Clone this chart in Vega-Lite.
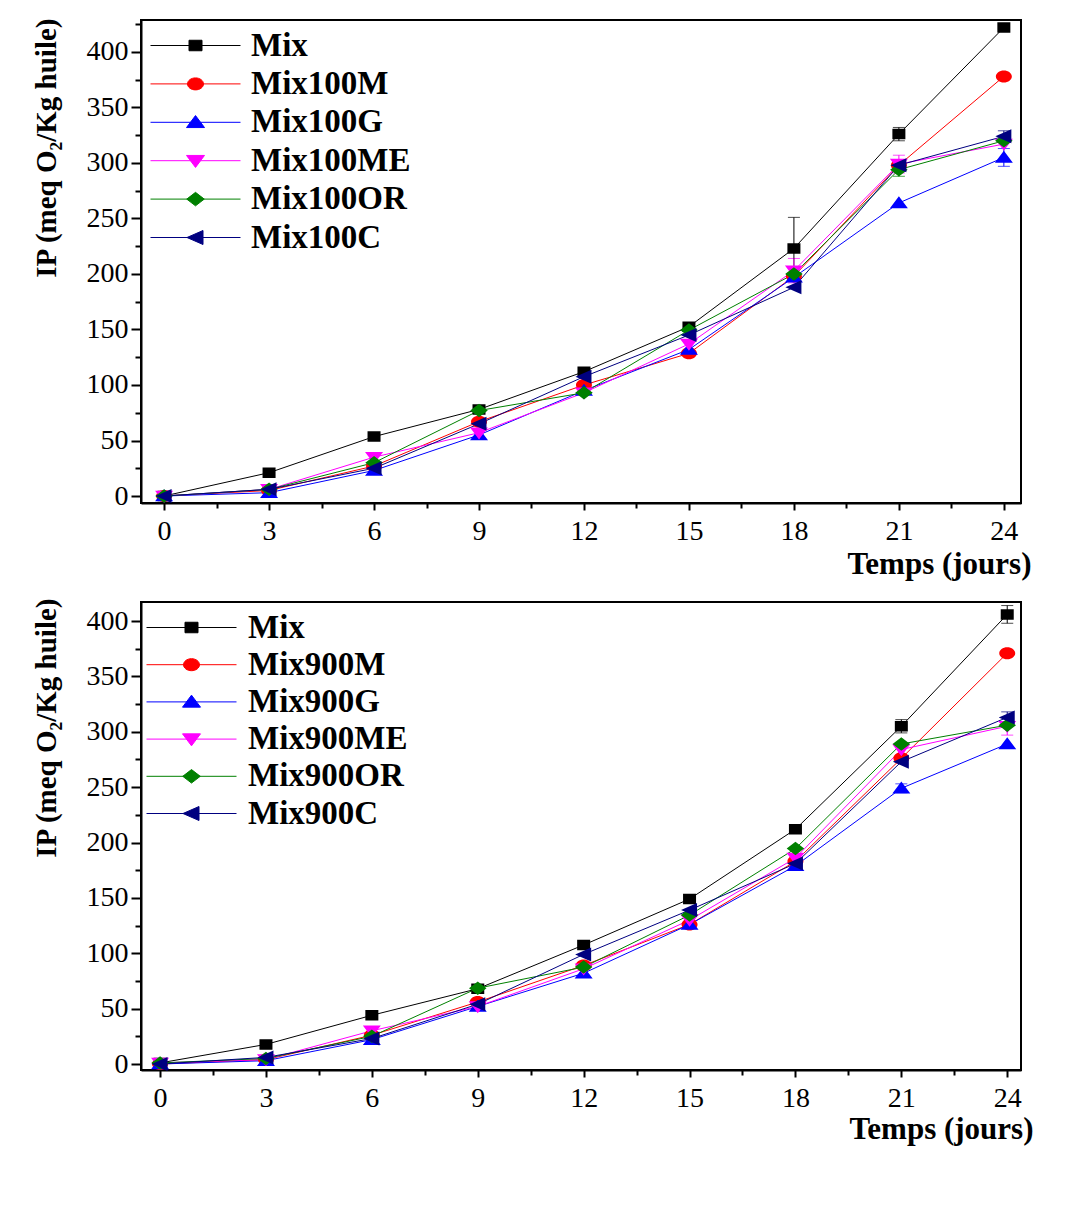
{
  "$schema": "https://vega.github.io/schema/vega-lite/v6.json",
  "background": "white",
  "padding": {"left": 31, "top": 9, "right": 5, "bottom": 5},
  "spacing": 17,
  "datasets": {
    "top": [
      {"day":0,"series":"Mix","v":0,"err":0},{"day":3,"series":"Mix","v":21,"err":0},{"day":6,"series":"Mix","v":53.5,"err":0},{"day":9,"series":"Mix","v":78,"err":0},{"day":12,"series":"Mix","v":112,"err":0},{"day":15,"series":"Mix","v":152.5,"err":0},{"day":18,"series":"Mix","v":223,"err":28},{"day":21,"series":"Mix","v":326,"err":6},{"day":24,"series":"Mix","v":422,"err":0},
      {"day":0,"series":"Mix100M","v":0,"err":0},{"day":3,"series":"Mix100M","v":5,"err":0},{"day":6,"series":"Mix100M","v":27,"err":0},{"day":9,"series":"Mix100M","v":67,"err":0},{"day":12,"series":"Mix100M","v":100,"err":0},{"day":15,"series":"Mix100M","v":128.5,"err":0},{"day":18,"series":"Mix100M","v":198,"err":0},{"day":21,"series":"Mix100M","v":298,"err":0},{"day":24,"series":"Mix100M","v":378,"err":0},
      {"day":0,"series":"Mix100G","v":0,"err":0},{"day":3,"series":"Mix100G","v":3,"err":0},{"day":6,"series":"Mix100G","v":23,"err":0},{"day":9,"series":"Mix100G","v":55,"err":0},{"day":12,"series":"Mix100G","v":95,"err":0},{"day":15,"series":"Mix100G","v":132,"err":0},{"day":18,"series":"Mix100G","v":197,"err":0},{"day":21,"series":"Mix100G","v":264,"err":0},{"day":24,"series":"Mix100G","v":305,"err":8},
      {"day":0,"series":"Mix100ME","v":0,"err":0},{"day":3,"series":"Mix100ME","v":6,"err":0},{"day":6,"series":"Mix100ME","v":35,"err":0},{"day":9,"series":"Mix100ME","v":57,"err":0},{"day":12,"series":"Mix100ME","v":93,"err":0},{"day":15,"series":"Mix100ME","v":137,"err":0},{"day":18,"series":"Mix100ME","v":203,"err":11},{"day":21,"series":"Mix100ME","v":299,"err":8},{"day":24,"series":"Mix100ME","v":317,"err":0},
      {"day":0,"series":"Mix100OR","v":0,"err":0},{"day":3,"series":"Mix100OR","v":6,"err":0},{"day":6,"series":"Mix100OR","v":30,"err":0},{"day":9,"series":"Mix100OR","v":77,"err":0},{"day":12,"series":"Mix100OR","v":93,"err":0},{"day":15,"series":"Mix100OR","v":149.5,"err":0},{"day":18,"series":"Mix100OR","v":200,"err":0},{"day":21,"series":"Mix100OR","v":294,"err":6},{"day":24,"series":"Mix100OR","v":320,"err":0},
      {"day":0,"series":"Mix100C","v":0,"err":0},{"day":3,"series":"Mix100C","v":6,"err":0},{"day":6,"series":"Mix100C","v":25,"err":0},{"day":9,"series":"Mix100C","v":65,"err":0},{"day":12,"series":"Mix100C","v":107.5,"err":0},{"day":15,"series":"Mix100C","v":145,"err":0},{"day":18,"series":"Mix100C","v":188,"err":0},{"day":21,"series":"Mix100C","v":298,"err":0},{"day":24,"series":"Mix100C","v":324,"err":5}
    ],
    "bottom": [
      {"day":0,"series":"Mix","v":1,"err":0},{"day":3,"series":"Mix","v":17.7,"err":0},{"day":6,"series":"Mix","v":44,"err":0},{"day":9,"series":"Mix","v":68,"err":0},{"day":12,"series":"Mix","v":107.5,"err":0},{"day":15,"series":"Mix","v":149,"err":0},{"day":18,"series":"Mix","v":212,"err":0},{"day":21,"series":"Mix","v":305,"err":6},{"day":24,"series":"Mix","v":406,"err":8},
      {"day":0,"series":"Mix900M","v":0,"err":0},{"day":3,"series":"Mix900M","v":4,"err":0},{"day":6,"series":"Mix900M","v":26,"err":0},{"day":9,"series":"Mix900M","v":56,"err":0},{"day":12,"series":"Mix900M","v":89,"err":0},{"day":15,"series":"Mix900M","v":126,"err":0},{"day":18,"series":"Mix900M","v":183,"err":0},{"day":21,"series":"Mix900M","v":276,"err":0},{"day":24,"series":"Mix900M","v":371,"err":0},
      {"day":0,"series":"Mix900G","v":0,"err":0},{"day":3,"series":"Mix900G","v":3,"err":0},{"day":6,"series":"Mix900G","v":22,"err":0},{"day":9,"series":"Mix900G","v":52,"err":0},{"day":12,"series":"Mix900G","v":82,"err":0},{"day":15,"series":"Mix900G","v":126,"err":0},{"day":18,"series":"Mix900G","v":179,"err":0},{"day":21,"series":"Mix900G","v":249,"err":4},{"day":24,"series":"Mix900G","v":289,"err":0},
      {"day":0,"series":"Mix900ME","v":1,"err":0},{"day":3,"series":"Mix900ME","v":4,"err":0},{"day":6,"series":"Mix900ME","v":30,"err":0},{"day":9,"series":"Mix900ME","v":52,"err":0},{"day":12,"series":"Mix900ME","v":86,"err":0},{"day":15,"series":"Mix900ME","v":130,"err":0},{"day":18,"series":"Mix900ME","v":186,"err":0},{"day":21,"series":"Mix900ME","v":284,"err":5},{"day":24,"series":"Mix900ME","v":305,"err":8},
      {"day":0,"series":"Mix900OR","v":1,"err":0},{"day":3,"series":"Mix900OR","v":5,"err":0},{"day":6,"series":"Mix900OR","v":25,"err":0},{"day":9,"series":"Mix900OR","v":68.5,"err":3},{"day":12,"series":"Mix900OR","v":87.5,"err":0},{"day":15,"series":"Mix900OR","v":134.5,"err":0},{"day":18,"series":"Mix900OR","v":194.5,"err":0},{"day":21,"series":"Mix900OR","v":289,"err":0},{"day":24,"series":"Mix900OR","v":306,"err":0},
      {"day":0,"series":"Mix900C","v":0,"err":0},{"day":3,"series":"Mix900C","v":6,"err":0},{"day":6,"series":"Mix900C","v":23,"err":0},{"day":9,"series":"Mix900C","v":54,"err":0},{"day":12,"series":"Mix900C","v":99,"err":0},{"day":15,"series":"Mix900C","v":139,"err":0},{"day":18,"series":"Mix900C","v":181,"err":0},{"day":21,"series":"Mix900C","v":273,"err":0},{"day":24,"series":"Mix900C","v":313,"err":5}
    ]
  },
  "config": {
    "view": {"stroke": "black", "strokeWidth": 2},
    "axis": {"grid": false, "domainColor": "black", "domainWidth": 2, "tickColor": "black", "tickWidth": 2, "labelFont": "Liberation Serif, Times New Roman, serif", "labelFontSize": 28, "labelColor": "black", "titleFont": "Liberation Serif, Times New Roman, serif", "titleFontWeight": "bold", "titleColor": "black", "labelOverlap": false, "labelFlush": false},
    "legend": {"labelFont": "Liberation Serif, Times New Roman, serif", "labelFontSize": 33, "labelFontWeight": "bold", "labelColor": "black", "labelLimit": 400, "padding": 0, "symbolStrokeWidth": 1, "symbolSize": 100, "symbolOpacity": 1}
  },
  "resolve": {"scale": {"color": "independent", "shape": "independent", "x": "independent", "y": "independent"}, "legend": {"color": "independent", "shape": "independent"}},
  "vconcat": [
    {
      "width": 880, "height": 483,
      "data": {"name": "top"},
      "encoding": {
        "x": {"field": "day", "type": "quantitative", "scale": {"domain": [-0.66, 24.49], "nice": false, "zero": false},
          "axis": {"title": "Temps (jours)", "values": [0,1.5,3,4.5,6,7.5,9,10.5,12,13.5,15,16.5,18,19.5,21,22.5,24], "labelExpr": "datum.value % 3 === 0 ? datum.label : ''", "tickSize": {"condition": {"test": "datum.value % 3 === 0", "value": 7}, "value": 5}, "labelPadding": 7, "titleFontSize": 31, "titleAnchor": "end", "titleAlign": "right", "titleBaseline": "top", "titleX": 890, "titleY": 46}},
        "y": {"field": "v", "type": "quantitative", "scale": {"domain": [-6.3, 428.8], "nice": false, "zero": false},
          "axis": {"title": "IP (meq O₂/Kg huile)", "values": [0,25,50,75,100,125,150,175,200,225,250,275,300,325,350,375,400,425], "labelExpr": "datum.value % 50 === 0 ? datum.label : ''", "tickSize": {"condition": {"test": "datum.value % 50 === 0", "value": 10}, "value": 6}, "labelPadding": 3, "titleFontSize": 29, "titleAngle": 270, "titleAlign": "right", "titleBaseline": "alphabetic", "titleAnchor": "end", "titleX": -86, "titleY": -2}},
        "color": {"field": "series", "type": "nominal",
          "scale": {"domain": ["Mix","Mix100M","Mix100G","Mix100ME","Mix100OR","Mix100C"], "range": ["#000000","#ff0000","#0000ff","#ff00ff","#008000","#000080"]},
          "legend": {"title": null, "orient": "none", "legendX": 38, "legendY": 9, "labelOffset": 39, "rowPadding": 4.4}}
      },
      "layer": [
        {"mark": {"type": "line", "strokeWidth": 1}},
        {"transform": [{"filter": "datum.err > 0"}], "mark": {"type": "errorbar", "ticks": {"size": 12, "thickness": 1}, "rule": {"strokeWidth": 1}}, "encoding": {"yError": {"field": "err"}}},
        {"mark": {"type": "point", "filled": true, "size": 100, "opacity": 1, "strokeWidth": 0},
          "encoding": {"shape": {"field": "series", "type": "nominal",
            "legend": {"title": null, "orient": "none", "legendX": 38, "legendY": 9, "labelOffset": 39, "rowPadding": 4.4},
            "scale": {"domain": ["Mix","Mix100M","Mix100G","Mix100ME","Mix100OR","Mix100C"], "range": ["M-9,0H9M-1.3,-1.05H1.3V1.05H-1.3Z","M-9,0H9M-1.6,0A1.6,1.2,0,1,0,1.6,0A1.6,1.2,0,1,0,-1.6,0Z","M-9,0H9M0,-1.35L1.8,1.05L-1.8,1.05Z","M-9,0H9M0,1.35L1.8,-1.05L-1.8,-1.05Z","M-9,0H9M0,-1.35L1.75,0L0,1.35L-1.75,0Z","M-9,0H9M-1.7,0L1.5,-1.4L1.5,1.4Z"]}}}}
      ]
    },
    {
      "width": 880, "height": 468,
      "data": {"name": "bottom"},
      "encoding": {
        "x": {"field": "day", "type": "quantitative", "scale": {"domain": [-0.54, 24.39], "nice": false, "zero": false},
          "axis": {"title": "Temps (jours)", "values": [0,1.5,3,4.5,6,7.5,9,10.5,12,13.5,15,16.5,18,19.5,21,22.5,24], "labelExpr": "datum.value % 3 === 0 ? datum.label : ''", "tickSize": {"condition": {"test": "datum.value % 3 === 0", "value": 7}, "value": 5}, "labelPadding": 7, "titleFontSize": 31, "titleAnchor": "end", "titleAlign": "right", "titleBaseline": "top", "titleX": 892, "titleY": 44}},
        "y": {"field": "v", "type": "quantitative", "scale": {"domain": [-5.4, 417.2], "nice": false, "zero": false},
          "axis": {"title": "IP (meq O₂/Kg huile)", "values": [0,25,50,75,100,125,150,175,200,225,250,275,300,325,350,375,400], "labelExpr": "datum.value % 50 === 0 ? datum.label : ''", "tickSize": {"condition": {"test": "datum.value % 50 === 0", "value": 10}, "value": 6}, "labelPadding": 3, "titleFontSize": 29, "titleAngle": 270, "titleAlign": "right", "titleBaseline": "alphabetic", "titleAnchor": "end", "titleX": -86, "titleY": -4}},
        "color": {"field": "series", "type": "nominal",
          "scale": {"domain": ["Mix","Mix900M","Mix900G","Mix900ME","Mix900OR","Mix900C"], "range": ["#000000","#ff0000","#0000ff","#ff00ff","#008000","#000080"]},
          "legend": {"title": null, "orient": "none", "legendX": 34, "legendY": 9, "labelOffset": 40, "rowPadding": 3.2}}
      },
      "layer": [
        {"mark": {"type": "line", "strokeWidth": 1}},
        {"transform": [{"filter": "datum.err > 0"}], "mark": {"type": "errorbar", "ticks": {"size": 12, "thickness": 1}, "rule": {"strokeWidth": 1}}, "encoding": {"yError": {"field": "err"}}},
        {"mark": {"type": "point", "filled": true, "size": 100, "opacity": 1, "strokeWidth": 0},
          "encoding": {"shape": {"field": "series", "type": "nominal",
            "legend": {"title": null, "orient": "none", "legendX": 34, "legendY": 9, "labelOffset": 40, "rowPadding": 3.2},
            "scale": {"domain": ["Mix","Mix900M","Mix900G","Mix900ME","Mix900OR","Mix900C"], "range": ["M-9,0H9M-1.3,-1.05H1.3V1.05H-1.3Z","M-9,0H9M-1.6,0A1.6,1.2,0,1,0,1.6,0A1.6,1.2,0,1,0,-1.6,0Z","M-9,0H9M0,-1.35L1.8,1.05L-1.8,1.05Z","M-9,0H9M0,1.35L1.8,-1.05L-1.8,-1.05Z","M-9,0H9M0,-1.35L1.75,0L0,1.35L-1.75,0Z","M-9,0H9M-1.7,0L1.5,-1.4L1.5,1.4Z"]}}}}
      ]
    }
  ]
}
